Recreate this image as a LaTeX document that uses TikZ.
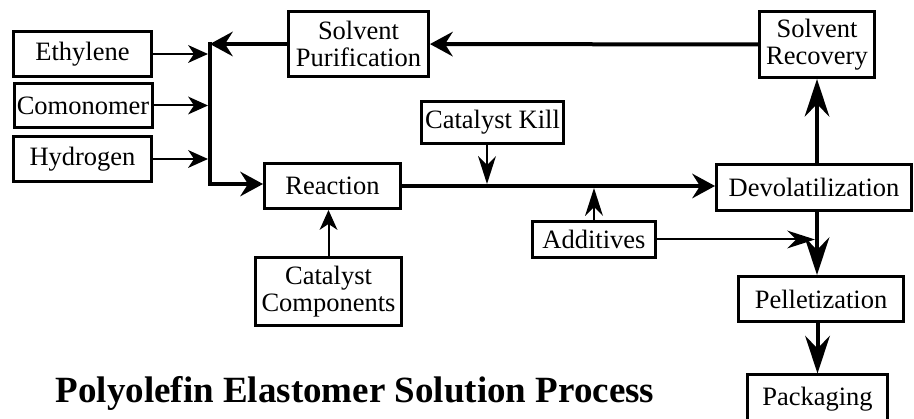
\documentclass[tikz,border=0pt]{standalone}
\usepackage{fontspec}
\setmainfont{Liberation Serif}
\usetikzlibrary{arrows.meta}
\tikzset{x=1pt, y=-1pt,
    unit/.style={draw, line width=3pt, inner sep=0pt, align=center,
        font=\fontsize{26.5}{27}\selectfont},
    feed/.style={line width=2pt, -{Stealth[length=20pt,width=18pt,inset=6pt,line width=0pt]}},
    dose/.style={line width=2pt, -{Stealth[length=28pt,width=18pt,inset=9pt,line width=0pt]}},
    flow/.style={line width=4pt, -{Stealth[length=23pt,width=25pt,inset=8pt,line width=0pt]}},
    drop/.style={line width=4pt, -{Stealth[length=38pt,width=25pt,inset=13pt,line width=0pt]}},
    }

\begin{document}
\begin{tikzpicture}
\useasboundingbox (0,0) rectangle (914,419);
% feeds
\node[unit, minimum width=138pt, minimum height=45pt] (ethylene) at (82.5,54) {Ethylene};
\node[unit, minimum width=138pt, minimum height=44pt] (comonomer) at (83,105.5) {Comonomer};
\node[unit, minimum width=138pt, minimum height=45pt] (hydrogen) at (82.5,159) {Hydrogen};
% solvent loop
\node[unit, minimum width=140pt, minimum height=65pt] (solvpur) at (358.5,44) {Solvent\\Purification};
\node[unit, minimum width=115pt, minimum height=66pt] (solvrec) at (817,44.5) {Solvent\\Recovery};
% main line
\node[unit, minimum width=136pt, minimum height=45pt] (reaction) at (332.5,186) {Reaction};
\node[unit, minimum width=146pt, minimum height=68pt] (catcomp) at (328.5,291.5) {Catalyst\\Components};
\node[unit, minimum width=142pt, minimum height=42pt] (catkill) at (492.5,122.5) {Catalyst Kill};
\node[unit, minimum width=123pt, minimum height=36pt] (additives) at (594,239.5) {Additives};
\node[unit, minimum width=195pt, minimum height=46pt] (devol) at (814,187.5) {Devolatilization};
\node[unit, minimum width=165pt, minimum height=45pt] (pellet) at (821,299) {Pelletization};
\node[unit, minimum width=140pt, minimum height=48pt] (packaging) at (817.5,399) {Packaging};
\node[font=\bfseries\fontsize{37}{40}\selectfont, anchor=base] (title) at (355,403)
    {Polyolefin Elastomer Solution Process};

\coordinate (mixtop) at (210,44);
\coordinate (mixbot) at (210,184);
\coordinate (kill) at (487,186);

\draw[flow] (solvrec) -- (solvpur);
\draw[flow] (solvpur.west) -- (mixtop);
\foreach \f in {ethylene,comonomer,hydrogen}
    \draw[feed, shorten >=2pt] (\f.east) -- (\f.east -| mixtop);
\draw[flow, line join=miter] ([yshift=2pt]mixtop) -- (mixbot) -- (mixbot -| reaction.west);
\draw[feed] (catcomp.north) -- (catcomp.north |- reaction.south);
\draw[flow] (reaction.east) -- (reaction.east -| devol.west);
\draw[dose, shorten >=2pt] (kill |- catkill.south) -- (kill);
\draw[dose, shorten >=2pt] (additives.north) -- (additives.north |- kill);
\draw[dose, shorten >=2pt] (additives.east) -- (additives.east -| solvrec.south);
\draw[drop] (devol.north -| solvrec.south) -- (solvrec.south);
\draw[drop] (devol.south -| solvrec.south) -- (pellet.north -| solvrec.south);
\draw[drop] (pellet.south -| packaging.north) -- (packaging.north);%pellet, packaging
\end{tikzpicture}
\end{document}
